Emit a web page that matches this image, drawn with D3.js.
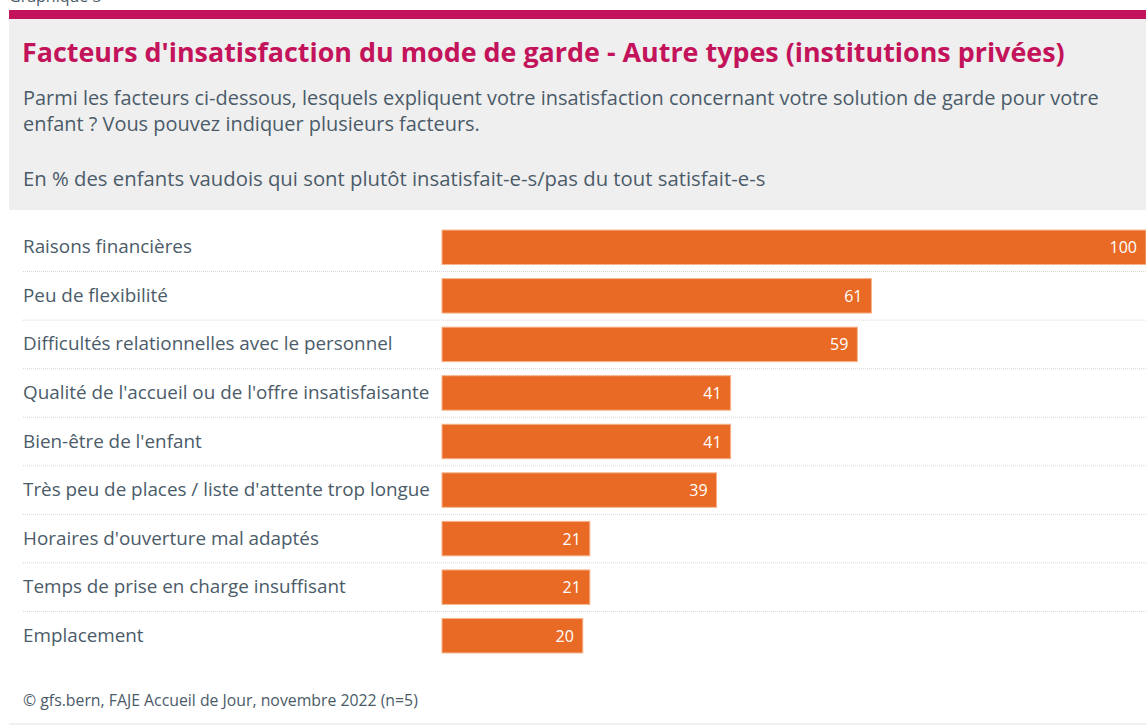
<!DOCTYPE html>
<html>
<head>
<meta charset="utf-8">
<script src="https://cdn.jsdelivr.net/npm/d3@7"></script>
<style>
  html, body { margin: 0; padding: 0; background: #ffffff; }
  svg { display: block; }
  text { font-family: "Open Sans", "Noto Sans", sans-serif; }
</style>
</head>
<body>
<svg id="chart" width="1146" height="725"></svg>
<script>
// Factors of dissatisfaction, in % of children
const categories = [
  "Raisons financières",
  "Peu de flexibilité",
  "Difficultés relationnelles avec le personnel",
  "Qualité de l'accueil ou de l'offre insatisfaisante",
  "Bien-être de l'enfant",
  "Très peu de places / liste d'attente trop longue",
  "Horaires d'ouverture mal adaptés",
  "Temps de prise en charge insuffisant",
  "Emplacement"
];
const values = [100, 61, 59, 41, 41, 39, 21, 21, 20];

const kicker = "Graphique 3";
const title = "Facteurs d'insatisfaction du mode de garde - Autre types (institutions privées)";
const subtitleLines = [
  "Parmi les facteurs ci-dessous, lesquels expliquent votre insatisfaction concernant votre solution de garde pour votre",
  "enfant ? Vous pouvez indiquer plusieurs facteurs."
];
const unitNote = "En % des enfants vaudois qui sont plutôt insatisfait-e-s/pas du tout satisfait-e-s";
const source = "© gfs.bern, FAJE Accueil de Jour, novembre 2022 (n=5)";

const W = 1146, H = 725;
const magenta = "#c3135b";
const slate = "#4b5b69";
const orange = "#e86a24";

const svg = d3.select("#chart");

// shrink/grow a text element's font size so it spans a given width
function fitWidth(sel, target) {
  const node = sel.node();
  const fs = parseFloat(sel.attr("font-size"));
  const w = node.getComputedTextLength();
  const nfs = w > 0 ? fs * target / w : fs;
  sel.attr("font-size", nfs.toFixed(2));
  return nfs;
}

// header block
svg.append("text").attr("x", 9).attr("y", 2).attr("font-size", 16)
  .attr("fill", slate).text(kicker);
svg.append("rect").attr("x", 9).attr("y", 10).attr("width", W - 9).attr("height", 9)
  .attr("fill", magenta);
svg.append("rect").attr("x", 9).attr("y", 19).attr("width", W - 9).attr("height", 191)
  .attr("fill", "#efefef");

const t = svg.append("text").attr("x", 22).attr("y", 62)
  .attr("font-size", 27).attr("font-weight", 700).attr("fill", magenta).text(title);
fitWidth(t, 1043);

// question text: both lines share the size that makes the first line span its width
const sub = svg.append("g");
const subText = subtitleLines.map((line, i) =>
  sub.append("text").attr("x", 23).attr("y", 105 + i * 26)
    .attr("font-size", 17).attr("fill", slate).text(line));
const subSize = fitWidth(subText[0], 1077);
subText.forEach(s => s.attr("font-size", subSize.toFixed(2)));

const u = svg.append("text").attr("x", 23).attr("y", 186)
  .attr("font-size", 17).attr("fill", slate).text(unitNote);
fitWidth(u, 743);

// bar chart
const x = d3.scaleLinear().domain([0, 100]).range([442, 1146]);
const y = d3.scaleBand().domain(categories).range([223, 660]).paddingInner(0.29).paddingOuter(0.145);

const step = y.step();

// dotted separators between rows
svg.append("g").selectAll("line")
  .data(categories.slice(1))
  .join("line")
  .attr("x1", 23).attr("x2", W)
  .attr("y1", d => y(d) - (step - y.bandwidth()) / 2)
  .attr("y2", d => y(d) - (step - y.bandwidth()) / 2)
  .attr("stroke", "#d6d6d6").attr("stroke-width", 1)
  .attr("stroke-dasharray", "1,1");

// category labels, scaled together so the longest one ends before the bars
const labels = svg.append("g").selectAll("text")
  .data(categories)
  .join("text")
  .attr("x", 23)
  .attr("y", d => y(d) + y.bandwidth() / 2 + 6)
  .attr("font-size", 17)
  .attr("fill", slate)
  .text(d => d);
const maxW = d3.max(labels.nodes(), n => n.getComputedTextLength());
labels.attr("font-size", (17 * 407 / maxW).toFixed(2));

svg.append("g").selectAll("rect")
  .data(values)
  .join("rect")
  .attr("x", x(0))
  .attr("y", (d, i) => y(categories[i]))
  .attr("width", d => x(d) - x(0))
  .attr("height", y.bandwidth())
  .attr("fill", orange)
  .attr("stroke", "#f6b48c").attr("stroke-width", 1);

svg.append("g").selectAll("text")
  .data(values)
  .join("text")
  .attr("x", d => x(d) - 9)
  .attr("y", (d, i) => y(categories[i]) + y.bandwidth() / 2 + 6)
  .attr("text-anchor", "end")
  .attr("font-size", 16)
  .attr("fill", "#ffffff")
  .text(d => d);

// footer
const f = svg.append("text").attr("x", 23).attr("y", 706)
  .attr("font-size", 15).attr("fill", slate).text(source);
fitWidth(f, 395);
svg.append("line").attr("x1", 9).attr("x2", W).attr("y1", 724).attr("y2", 724)
  .attr("stroke", "#e2e2e2").attr("stroke-width", 1);
</script>
</body>
</html>
